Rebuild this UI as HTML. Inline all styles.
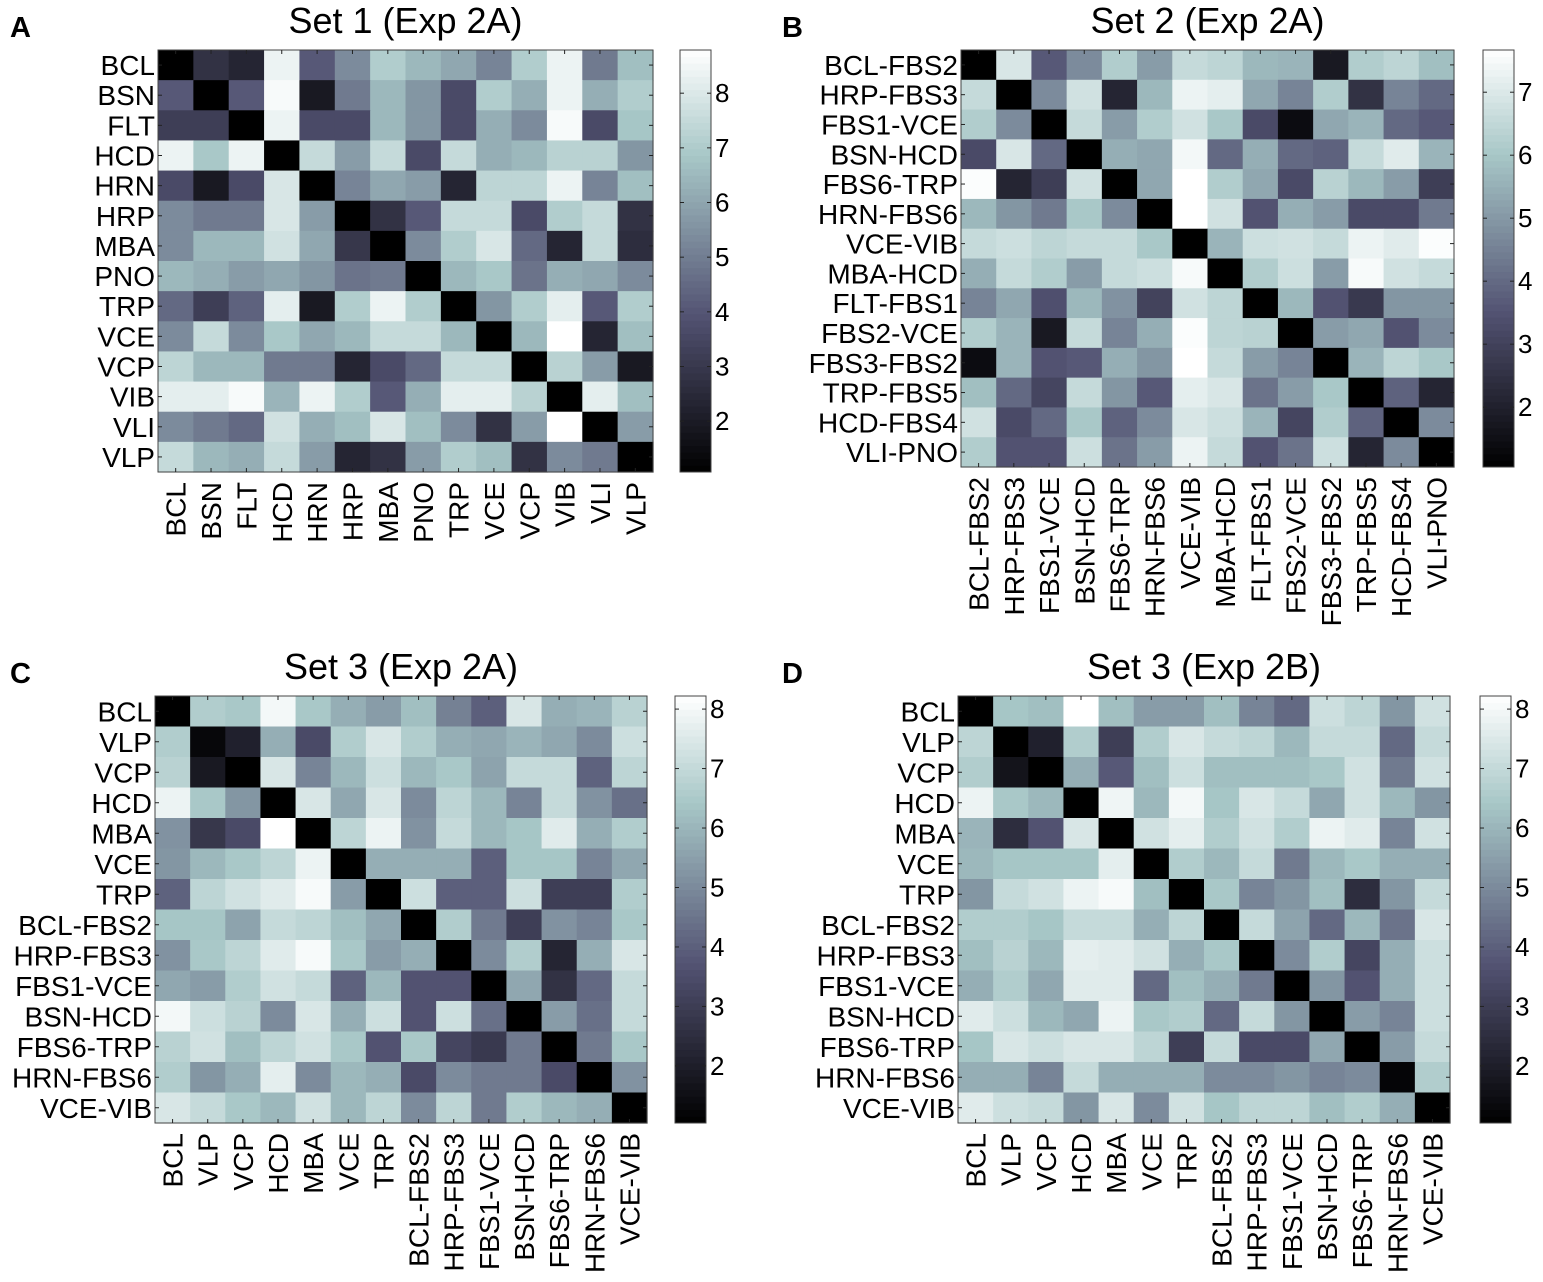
<!DOCTYPE html>
<html><head><meta charset="utf-8"><style>
html,body{margin:0;padding:0;background:#fff;}
svg{display:block;font-family:"Liberation Sans",Arial,sans-serif;}
</style></head><body>
<svg id="fig" width="1543" height="1282" viewBox="0 0 1543 1282" xmlns="http://www.w3.org/2000/svg"></svg>
<script>
// Data: dissimilarity on a 0-9 colour-fraction scale (0 = darkest, 9 = lightest)
const labelsA = ["BCL","BSN","FLT","HCD","HRN","HRP","MBA","PNO","TRP","VCE","VCP","VIB","VLI","VLP"];
const labelsB = ["BCL-FBS2","HRP-FBS3","FBS1-VCE","BSN-HCD","FBS6-TRP","HRN-FBS6","VCE-VIB","MBA-HCD","FLT-FBS1","FBS2-VCE","FBS3-FBS2","TRP-FBS5","HCD-FBS4","VLI-PNO"];
const labelsC = ["BCL","VLP","VCP","HCD","MBA","VCE","TRP","BCL-FBS2","HRP-FBS3","FBS1-VCE","BSN-HCD","FBS6-TRP","HRN-FBS6","VCE-VIB"];
const valuesA = [
[0,2,1.5,8.5,3.5,5,7,6.3,5.8,4.8,7,8.5,4.5,6.5],
[3.5,0,3.5,8.8,1,4.5,6.3,5.3,3,7,6,8.5,6,7],
[2.5,2.5,0,8.5,3,3,6.3,5.3,3,6,5,8.8,3,6.7],
[8.5,6.8,8.5,0,7.5,5.5,7.5,3,7.5,6,6.3,7.2,7.2,5.3],
[3,1,3,8,0,4.8,5.8,5.5,1.5,7.3,7.3,8.5,4.8,6.5],
[5,4.5,4.5,8,5.5,0,2,3.5,7.5,7.5,3,7,7.5,2],
[5,6.3,6.3,7.8,5.8,2.2,0,5,7,8,4,1.5,7.5,1.8],
[6.3,6,5.5,5.8,5.3,4.3,4.5,0,6.3,6.8,4.3,6,5.8,5],
[4,2.5,3.8,8.3,1,7,8.5,7,0,5.3,7,8.3,3.5,7],
[5,7.5,5,6.8,5.8,6.3,7.5,7.5,6.3,0,6.3,9,1.5,6.5],
[7.3,6.3,6.3,4.5,4.5,1.5,3,4,7.5,7.5,0,7.2,5.5,1],
[8.3,8.3,8.8,6.2,8.5,7,3.5,6,8.3,8.3,7.2,0,8.3,6.5],
[5,4.5,4,7.8,6,6.5,8,6.5,5,2,5.5,9,0,5.5],
[7.5,6.3,6,7.5,5.5,1.5,2,5.5,7,6.5,2,5,4.5,0]];
const valuesB = [
[0,8,3.5,5,7,5.5,7.5,7.3,6.3,6.2,1,7,7.3,6.5],
[7.5,0,5,7.8,1.5,6.3,8.5,8.3,5.8,4.8,7,2,4.8,4],
[7,5,0,7.5,5.5,7,7.8,6.8,3,0.5,5.8,6.2,4,3.5],
[3,8,4,0,6,5.8,8.7,4,6,4,3.8,7.5,8.2,6.2],
[8.9,1.5,2.5,7.8,0,5.8,9,7,5.8,3,7.2,6.3,5.5,2.5],
[6.3,5.3,4.5,6.8,5,0,9,7.8,3.3,6,5.5,3,3,4.5],
[7.5,7.7,7.3,7.5,7.5,6.8,0,6.2,7.7,7.8,7.5,8.5,8.2,8.9],
[6,7.5,7,5.5,7.5,7.7,8.8,0,7,7.7,5.5,8.8,7.8,7.5],
[4.8,5.8,3.2,6.3,5.2,2.7,7.8,7.3,0,6.3,3.3,2.3,5.3,5.3],
[7,6.2,1,7.5,4.8,6,8.9,7.3,7.2,0,5.5,5.8,3.3,5],
[0.5,6.2,3.3,3.5,6,5.3,9,7.5,5.5,4.8,0,6.2,7.3,6.8],
[6.5,4,2.8,7.5,5.3,3.5,8.3,8,4.3,5.5,6.8,0,3.8,1.5],
[7.8,3,4,6.8,3.8,5,8,7.7,6.2,2.8,7,3.8,0,5],
[7,3.3,3.3,7.7,4.3,5.5,8.5,7.5,3.3,4.3,7.7,1.5,5,0]];
const valuesC = [
[0,7,6.8,8.7,6.8,6,5.5,6.5,4.7,3.7,8,6,6.2,7.2],
[7,0.3,1.3,6,3,7,8,7,6,5.8,6.2,5.8,5,7.7],
[7.2,1,0,8,4.8,6.3,7.7,6.3,6.8,5.7,7.5,7.5,3.8,7.3],
[8.5,6.8,5.3,0,8,5.8,8,5,7.3,6.3,4.8,7.5,5.2,4.2],
[5.2,2.2,3,9,0,7.3,8.5,5.2,7.5,6.3,6.7,8.2,6,7],
[5.3,6.3,6.8,7.3,8.5,0,6,6,6,3.7,6.7,6.7,4.8,5.8],
[3.8,7.3,7.8,8.2,8.8,5.5,0,7.7,3.7,3.7,7.7,2.5,2.5,7],
[6.7,6.7,5.7,7.5,7.3,6.5,5.8,0,7,4.5,2.5,5.2,4.8,6.8],
[5.2,6.8,7.3,8.2,8.8,6.8,5.5,6,0,5,7,1.5,6,8],
[5.8,5.5,7,7.8,7.5,3.8,6.3,3.3,3.3,0,5.8,2,4,7.5],
[8.7,7.7,7.2,5,8,6,7.7,3.3,7.7,4.2,0,5.5,4.2,7.5],
[7.2,7.8,6.5,7.3,7.8,6.8,3.3,6.8,2.8,2.3,4.5,0,4.5,6.8],
[7,5.3,6,8.3,5,6.3,6,3,5,4.5,4.5,3,0,5.2],
[8,7.5,6.8,6.3,7.8,6.3,7.3,5,7.3,4.5,7,6.3,6,0]];
const valuesD = [
[0,6.7,6.5,9,6.5,5.5,5.5,6.5,4.8,4,7.7,7.3,5.3,7.8],
[7.3,0,1.3,7,2.5,7,8,7.5,7.3,6.3,7.5,7.5,4,7.5],
[7,0.8,0,6,3.5,6.5,7.7,6.5,6.5,6.5,6.8,7.8,4.5,7.8],
[8.5,6.8,6.3,0,8.6,6.3,8.7,6.7,8,7.5,5.8,7.8,6.3,5.3],
[6.2,1.8,3.3,8,0,7.8,8.3,7,7.8,7,8.5,8.2,4.8,7.8],
[6.3,6.7,6.7,6.7,8.3,0,7,6.3,7.5,4.5,6.3,6.8,6,6],
[5.3,7.5,7.8,8.5,8.8,6.5,0,6.8,4.8,5.3,6.5,1.8,5.3,7.5],
[7,7,6.7,7.5,7.5,6,7.3,0,7.5,5.7,4,6.3,4.3,8],
[6.5,7.2,6.3,8.3,8.2,7.8,6,6.8,0,5,7,2.8,6,7.7],
[6,7,5.8,8.2,8.2,4,6.5,6,4.5,0,5.3,3.3,6,7.7],
[8.2,7.7,6.3,5.8,8.5,6.8,7,4,7.5,5.3,0,5.5,4.8,7.7],
[6.7,8,7.7,8,8,7.3,2.5,7.5,3,3,5.8,0,5.5,7.5],
[6,6,4.8,7.5,6,6,6,5,5,5.3,4.8,5,0.2,7],
[8.2,7.7,7.5,5.3,8,5,7.8,6.7,7.3,7.3,6.5,7,6,0]];
const ticksA = [2,3,4,5,6,7,8];
const ticksB = [2,3,4,5,6,7];
const ticksC = [2,3,4,5,6,7,8];

const NS="http://www.w3.org/2000/svg";
const svg=document.getElementById('fig');
function mk(tag,attrs,parent){const e=document.createElementNS(NS,tag);for(const k in attrs)e.setAttribute(k,attrs[k]);(parent||svg).appendChild(e);return e;}
function cl(v){return Math.max(0,Math.min(1,v));}
function bone(x){
  const hr=cl(x/0.375), hg=cl((x-0.375)/0.375), hb=cl((x-0.75)/0.25);
  const r=(7*x+hb)/8, g=(7*x+hg)/8, b=(7*x+hr)/8;
  return `rgb(${Math.round(r*255)},${Math.round(g*255)},${Math.round(b*255)})`;
}
function panel(cfg){
  const g=mk('g',{});
  
  
  const n=cfg.labels.length;
  const cw=(cfg.x1-cfg.x0)/n, ch=(cfg.y1-cfg.y0)/n;
  const xs=i=>cfg.x0+i*cw, ys=j=>cfg.y0+j*ch;
  const colorScale=v=>bone(cl(v/9));
  for(let r=0;r<n;r++)for(let c=0;c<n;c++){
    const e=mk('rect',{x:xs(c).toFixed(2),y:ys(r).toFixed(2),width:(cw+0.6).toFixed(2),height:(ch+0.6).toFixed(2),fill:colorScale(cfg.values[r][c])},g);
    
    
  }
  const fr=mk('rect',{x:cfg.x0,y:cfg.y0,width:cfg.x1-cfg.x0,height:cfg.y1-cfg.y0,fill:'none',stroke:'#444','stroke-width':1},g);
  
  
  for(let i=0;i<n;i++){
    const cx=xs(i)+cw/2, cy=ys(i)+ch/2;
    mk('line',{x1:cx,y1:cfg.y0,x2:cx,y2:cfg.y0+4,stroke:'#222'},g);
    mk('line',{x1:cx,y1:cfg.y1,x2:cx,y2:cfg.y1-4,stroke:'#222'},g);
    mk('line',{x1:cfg.x0,y1:cy,x2:cfg.x0+4,y2:cy,stroke:'#222'},g);
    mk('line',{x1:cfg.x1,y1:cy,x2:cfg.x1-4,y2:cy,stroke:'#222'},g);
    const yl=mk('text',{x:cfg.x0-3,y:cy+10,'text-anchor':'end','font-size':28,fill:'#000'},g);
    yl.textContent=cfg.labels[i];
    
    
    const xl=mk('text',{x:0,y:0,'text-anchor':'end','font-size':28,fill:'#000',transform:`translate(${cx+10},${cfg.y1+10}) rotate(-90)`},g);
    xl.textContent=cfg.labels[i];
    
    
  }
  const t=mk('text',{x:(cfg.x0+cfg.x1)/2,y:cfg.ty,'text-anchor':'middle','font-size':36,fill:'#000'},g);
  t.textContent=cfg.title;
  
  
  const L=mk('text',{x:cfg.lx,y:cfg.ty+4,'font-size':29,'font-weight':'bold',fill:'#000'},g);
  L.textContent=cfg.letter;
  
  
  // colorbar
  const cb=mk('g',{},g);
  
  
  const steps=64, bh=(cfg.y1-cfg.y0)/steps;
  for(let k=0;k<steps;k++){
    mk('rect',{x:cfg.cbx,y:(cfg.y1-(k+1)*bh).toFixed(2),width:31,height:(bh+0.5).toFixed(2),fill:bone((k+0.5)/steps)},cb);
  }
  mk('rect',{x:cfg.cbx,y:cfg.y0,width:31,height:cfg.y1-cfg.y0,fill:'none',stroke:'#444'},cb);
  const vy=v=>cfg.y1-(v-cfg.vmin)/(cfg.vmax-cfg.vmin)*(cfg.y1-cfg.y0);
  cfg.ticks.forEach(tv=>{
    const y=vy(tv);
    mk('line',{x1:cfg.cbx,y1:y,x2:cfg.cbx+4,y2:y,stroke:'#222'},cb);
    mk('line',{x1:cfg.cbx+31,y1:y,x2:cfg.cbx+27,y2:y,stroke:'#222'},cb);
    const tl=mk('text',{x:cfg.cbx+35,y:y+9,'font-size':26,fill:'#000'},cb);
    tl.textContent=tv;
    
    
  });
}
panel({id:'panel-a',letter:'A',title:'Set 1 (Exp 2A)',labels:labelsA,values:valuesA,ticks:ticksA,x0:158,x1:653,y0:50,y1:472,ty:33,lx:10,cbx:680,vmin:1.07,vmax:8.79});
panel({id:'panel-b',letter:'B',title:'Set 2 (Exp 2A)',labels:labelsB,values:valuesB,ticks:ticksB,x0:961,x1:1454,y0:50,y1:467,ty:33,lx:782,cbx:1483,vmin:1.05,vmax:7.67});
panel({id:'panel-c',letter:'C',title:'Set 3 (Exp 2A)',labels:labelsC,values:valuesC,ticks:ticksC,x0:155,x1:647,y0:696,y1:1123,ty:679,lx:10,cbx:675,vmin:1.04,vmax:8.22});
panel({id:'panel-d',letter:'D',title:'Set 3 (Exp 2B)',labels:labelsC,values:valuesD,ticks:ticksC,x0:958,x1:1450,y0:696,y1:1123,ty:679,lx:782,cbx:1480,vmin:1.04,vmax:8.22});
</script>
</body></html>
